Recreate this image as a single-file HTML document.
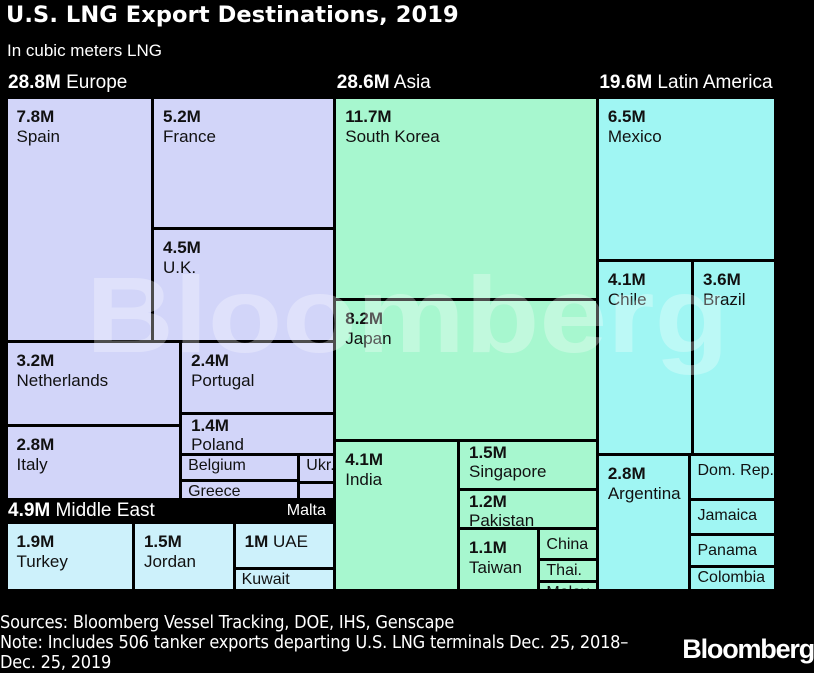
<!DOCTYPE html>
<html><head><meta charset="utf-8">
<style>
html,body{margin:0;padding:0;background:#000;}
#root{position:relative;width:814px;height:673px;background:#000;overflow:hidden;font-family:"Liberation Sans",sans-serif;}
.title{position:absolute;left:6px;top:2px;color:#fff;font-family:"DejaVu Sans",sans-serif;font-weight:bold;font-size:22.5px;letter-spacing:0.1px;}
.sub{position:absolute;left:7px;top:41px;color:#fff;font-size:17px;}
.rh{position:absolute;color:#fff;font-size:19px;white-space:nowrap;}
.rh b{font-weight:bold;}
.box{position:absolute;overflow:hidden;color:#111;font-size:17px;line-height:20px;box-sizing:border-box;padding:8px 0 0 9px;white-space:nowrap;}
.box b{display:block;}
.foot{position:absolute;left:0;top:613px;color:#fff;font-family:"Liberation Sans Narrow","DejaVu Sans Condensed",sans-serif;font-size:18px;line-height:20px;letter-spacing:-0.2px;}
.logo{position:absolute;right:0;top:634px;color:#fff;font-weight:bold;font-size:27px;letter-spacing:-1.2px;}
#wm{position:absolute;left:0;top:0;pointer-events:none;}
</style></head>
<body>
<div id="root">
<div class="title">U.S. LNG Export Destinations, 2019</div>
<div class="sub">In cubic meters LNG</div>
<div id="plot"></div>
<svg id="wm" width="814" height="673"><text x="86" y="352" font-family="Liberation Sans, sans-serif" font-weight="bold" font-size="108" fill="#fff" fill-opacity="0.3" textLength="643" lengthAdjust="spacingAndGlyphs">Bloomberg</text></svg>
<div class="foot">Sources: Bloomberg Vessel Tracking, DOE, IHS, Genscape<br>Note: Includes 506 tanker exports departing U.S. LNG terminals Dec. 25, 2018–<br>Dec. 25, 2019</div>
<div class="logo">Bloomberg</div>
</div>
<script>
const regionNames=['Europe','Middle East','Asia','Latin America'];
const regionTotals=[28.8,4.9,28.6,19.6];
const leafNames=['Spain','France','U.K.','Netherlands','Italy','Portugal','Poland','Belgium','Greece','Ukr.','Malta',
'Turkey','Jordan','UAE','Kuwait',
'South Korea','Japan','India','Singapore','Pakistan','Taiwan','China','Thai.','Malay.',
'Mexico','Chile','Brazil','Argentina','Dom. Rep.','Jamaica','Panama','Colombia'];
const leafValues=[7.8,5.2,4.5,3.2,2.8,2.4,1.4,0.65,0.5,0.22,0.13,
1.9,1.5,1.0,0.5,
11.7,8.2,4.1,1.5,1.2,1.1,0.4,0.28,0.12,
6.5,4.1,3.6,2.8,0.86,0.67,0.6,0.47];
const showValue=['Spain','France','U.K.','Netherlands','Italy','Portugal','Poland','Turkey','Jordan','South Korea','Japan','India','Singapore','Pakistan','Taiwan','Mexico','Chile','Brazil','Argentina'];
const colors={'Europe':'#d2d5f9','Middle East':'#cdf1fb','Asia':'#a7f7cf','Latin America':'#a0f6f3'};

const trees={
 'Europe':{d:'v',c:[{d:'h',c:['Spain',{d:'v',c:['France','U.K.']}]},{d:'h',c:[{d:'v',c:['Netherlands','Italy']},{d:'v',c:['Portugal','Poland',{d:'h',c:[{d:'v',c:['Belgium','Greece']},{d:'v',c:['Ukr.','Malta']}]}]}]}]},
 'Middle East':{d:'h',c:['Turkey','Jordan',{d:'v',c:['UAE','Kuwait']}]},
 'Asia':{d:'v',c:['South Korea','Japan',{d:'h',c:['India',{d:'v',c:['Singapore','Pakistan',{d:'h',c:['Taiwan',{d:'v',c:['China','Thai.','Malay.']}]}]}]}]},
 'Latin America':{d:'v',c:['Mexico',{d:'h',c:['Chile','Brazil']},{d:'h',c:['Argentina',{d:'v',c:['Dom. Rep.','Jamaica','Panama','Colombia']}]}]}
};
function val(n){return typeof n==='string'?leafValues[leafNames.indexOf(n)]:n.c.reduce((s,c)=>s+val(c),0);}
const plot=document.getElementById('plot');
const X0=6,X1=776,Y0=97,Y1=591,HH=23;
function fmt(v){return (Math.round(v*10)/10)+'M';}
function leaf(n,x,y,w,h,region){
  const d=document.createElement('div');
  d.className='box';
  
  
  d.style.left=(x+1.5)+'px';d.style.top=(y+1.5)+'px';
  d.style.width=Math.max(0,w-3)+'px';d.style.height=Math.max(0,h-3)+'px';
  d.style.background=colors[region];
  const v=val(n);
  if(n==='UAE'){d.innerHTML='<b style="display:inline">'+fmt(v)+'</b> UAE';}
  else if(showValue.indexOf(n)>=0){d.innerHTML='<b>'+fmt(v)+'</b>'+n;if(h<52){d.style.paddingTop='1px';d.style.lineHeight='19px';}}
  else if(n!=='Malta'){d.textContent=n;d.style.fontSize='16px';d.style.paddingTop=(h<30?0:5)+'px';d.style.paddingLeft='6px';}
  plot.appendChild(d);
}
function layout(node,x,y,w,h,region){
  if(typeof node==='string'){leaf(node,x,y,w,h,region);return;}
  const tot=val(node);let off=0;
  node.c.forEach(c=>{const f=val(c)/tot;
    if(node.d==='h'){layout(c,x+off,y,w*f,h,region);off+=w*f;}
    else{layout(c,x,y+off,w,h*f,region);off+=h*f;}});
}
function header(i,x,y){
  const d=document.createElement('div');d.className='rh';
  
  
  d.style.left=x+'px';d.style.top=y+'px';
  d.innerHTML='<b>'+regionTotals[i]+'M</b> '+regionNames[i];plot.appendChild(d);
}
const sE=val(trees['Europe']),sM=val(trees['Middle East']),sA=val(trees['Asia']),sL=val(trees['Latin America']);
const H=Y1-Y0,W=X1-X0;
const k=W/((sE+sM)/(H-HH)+sA/H+sL/H);
const w1=(sE+sM)*k/(H-HH)+3,w2=sA*k/H-1,w3=W-w1-w2;
const hE=(H-HH)*sE/(sE+sM);
layout(trees['Europe'],X0,Y0,w1,hE,'Europe');
layout(trees['Middle East'],X0,Y0+hE+HH,w1,H-hE-HH,'Middle East');
layout(trees['Asia'],X0+w1,Y0,w2,H,'Asia');
layout(trees['Latin America'],X0+w1+w2,Y0,w3,H,'Latin America');
header(0,X0+2,Y0-25);header(2,X0+w1+2,Y0-25);header(3,X0+w1+w2+2,Y0-25);
header(1,X0+2,Y0+hE);
const m=document.createElement('div');m.className='rh';


m.style.left=(X0+w1-48)+'px';m.style.top=(Y0+hE+2)+'px';m.style.fontSize='16px';m.textContent='Malta';plot.appendChild(m);
</script>
</body></html>
